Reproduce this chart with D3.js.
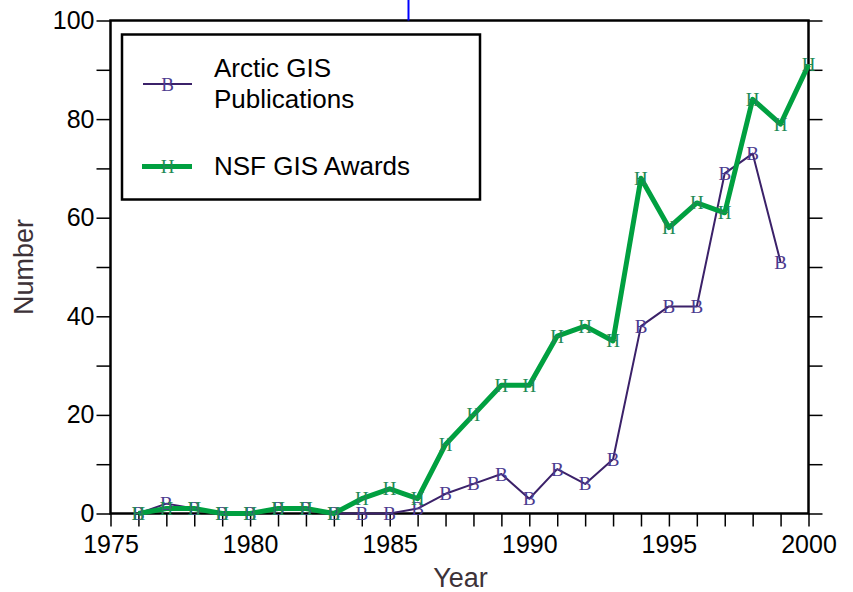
<!DOCTYPE html>
<html>
<head>
<meta charset="utf-8">
<script src="https://cdn.jsdelivr.net/npm/d3@7"></script>
<style>
  body { margin: 0; background: #fff; }
  svg { display: block; font-family: Arial, "Liberation Sans", sans-serif; }
</style>
</head>
<body>
<svg width="853" height="592"></svg>
<script>
(function () {

	var pubYears = [1976, 1977, 1978, 1979, 1980, 1981, 1982, 1983, 1984, 1985, 1986, 1987,
		1988, 1989, 1990, 1991, 1992, 1993, 1994, 1995, 1996, 1997, 1998, 1999];
	var pubValues = [0, 2, 1, 0, 0, 1, 1, 0, 0, 0, 1, 4,
		6, 8, 3, 9, 6, 11, 38, 42, 42, 69, 73, 51];

	var nsfYears = [1976, 1977, 1978, 1979, 1980, 1981, 1982, 1983, 1984, 1985, 1986, 1987,
		1988, 1989, 1990, 1991, 1992, 1993, 1994, 1995, 1996, 1997, 1998, 1999, 2000];
	var nsfValues = [0, 1, 1, 0, 0, 1, 1, 0, 3, 5, 3, 14,
		20, 26, 26, 36, 38, 35, 68, 58, 63, 61, 84, 79, 91];

	var xTicks = [1975, 1980, 1985, 1990, 1995, 2000];
	var yTicks = [0, 20, 40, 60, 80, 100];

	var pubs = pubYears.map(function (y, i) { return {year: y, value: pubValues[i]}; });
	var nsf = nsfYears.map(function (y, i) { return {year: y, value: nsfValues[i]}; });

	var purple = '#3b2169';
	var purpleMark = '#4b3a8f';
	var green = '#00a040';
	var greenMark = '#1f8a55';
	var serif = '"Liberation Serif", "DejaVu Serif", serif';
	var sans = 'Arial, "Liberation Sans", sans-serif';

	var svg = d3.select('svg');
	var left = 110.5, right = 808.5, top = 20.5, bottom = 513.5;

	var x = d3.scaleLinear().domain([1975, 2000]).range([left, right]);
	var y = d3.scaleLinear().domain([0, 100]).range([bottom, top]);

	// frame
	svg.append('rect')
		.attr('x', left).attr('y', top)
		.attr('width', right - left).attr('height', bottom - top)
		.attr('fill', 'none').attr('stroke', '#000').attr('stroke-width', 2.5);

	// stray blue mark above the frame
	svg.append('line')
		.attr('x1', 408.5).attr('x2', 408.5)
		.attr('y1', 0).attr('y2', top)
		.attr('stroke', '#0000ff').attr('stroke-width', 2);

	// x axis
	var xAxis = svg.append('g')
		.attr('transform', 'translate(0,' + bottom + ')')
		.call(d3.axisBottom(x).tickValues(d3.range(1975, 2001)).tickSize(13)
			.tickFormat(function (d) { return xTicks.indexOf(d) >= 0 ? d : ''; }));
	xAxis.select('.domain').remove();
	xAxis.selectAll('line').attr('stroke', '#000').attr('stroke-width', 1.5);
	xAxis.selectAll('text').attr('font-size', 25).attr('fill', '#000')
		.attr('font-family', sans).attr('dy', '0.95em').attr('y', 16);

	// y axis left
	var yAxis = svg.append('g')
		.attr('transform', 'translate(' + left + ',0)')
		.call(d3.axisLeft(y).tickValues(d3.range(0, 101, 10)).tickSize(14)
			.tickFormat(function (d) { return yTicks.indexOf(d) >= 0 ? d : ''; }));
	yAxis.select('.domain').remove();
	yAxis.selectAll('line').attr('stroke', '#000').attr('stroke-width', 1.5);
	yAxis.selectAll('text').attr('font-size', 25).attr('fill', '#000')
		.attr('font-family', sans).attr('x', -16);

	// y axis right
	var yAxisR = svg.append('g')
		.attr('transform', 'translate(' + right + ',0)')
		.call(d3.axisRight(y).tickValues(d3.range(0, 101, 10)).tickSize(14).tickFormat(''));
	yAxisR.select('.domain').remove();
	yAxisR.selectAll('line').attr('stroke', '#000').attr('stroke-width', 1.5);

	// axis titles
	svg.append('text')
		.attr('x', (left + right) / 2 + 1).attr('y', 587)
		.attr('text-anchor', 'middle').attr('font-size', 27).attr('fill', '#3d3238')
		.attr('font-family', sans)
		.text('Year');
	svg.append('text')
		.attr('transform', 'translate(33,' + (top + bottom) / 2 + ') rotate(-90)')
		.attr('text-anchor', 'middle').attr('font-size', 27).attr('fill', '#3d3238')
		.attr('font-family', sans)
		.text('Number');

	var line = d3.line()
		.x(function (d) { return x(d.year); })
		.y(function (d) { return y(d.value); });

	svg.append('path').datum(pubs)
		.attr('d', line).attr('fill', 'none')
		.attr('stroke', purple).attr('stroke-width', 2).attr('stroke-linejoin', 'round');

	svg.append('path').datum(nsf)
		.attr('d', line).attr('fill', 'none')
		.attr('stroke', green).attr('stroke-width', 5).attr('stroke-linejoin', 'round');

	function markers(data, letter, color) {
		svg.append('g').selectAll('text')
			.data(data)
			.enter().append('text')
			.attr('x', function (d) { return x(d.year); })
			.attr('y', function (d) { return y(d.value) + 6.5; })
			.attr('text-anchor', 'middle')
			.attr('font-family', serif)
			.attr('font-size', 19)
			.attr('fill', color)
			.text(letter);
	}
	markers(pubs, 'B', purpleMark);
	markers(nsf, 'H', greenMark);

	// legend
	var lg = svg.append('g');
	lg.append('rect')
		.attr('x', 122).attr('y', 34.5).attr('width', 358).attr('height', 165)
		.attr('fill', '#fff').attr('stroke', '#000').attr('stroke-width', 2.5);

	lg.append('line').attr('x1', 143).attr('x2', 192).attr('y1', 84).attr('y2', 84)
		.attr('stroke', purple).attr('stroke-width', 2);
	lg.append('text').attr('x', 167.5).attr('y', 90.5).attr('text-anchor', 'middle')
		.attr('font-family', serif)
		.attr('font-size', 19).attr('fill', purpleMark).text('B');
	lg.append('text').attr('x', 214).attr('y', 77).attr('font-size', 26).attr('fill', '#000')
		.attr('font-family', sans).text('Arctic GIS');
	lg.append('text').attr('x', 214).attr('y', 108).attr('font-size', 26).attr('fill', '#000')
		.attr('font-family', sans).text('Publications');

	lg.append('line').attr('x1', 142).attr('x2', 192).attr('y1', 166.5).attr('y2', 166.5)
		.attr('stroke', green).attr('stroke-width', 5);
	lg.append('text').attr('x', 167.5).attr('y', 173).attr('text-anchor', 'middle')
		.attr('font-family', serif)
		.attr('font-size', 19).attr('fill', greenMark).text('H');
	lg.append('text').attr('x', 214).attr('y', 175).attr('font-size', 26).attr('fill', '#000')
		.attr('font-family', sans).text('NSF GIS Awards');

})();
</script>
</body>
</html>
